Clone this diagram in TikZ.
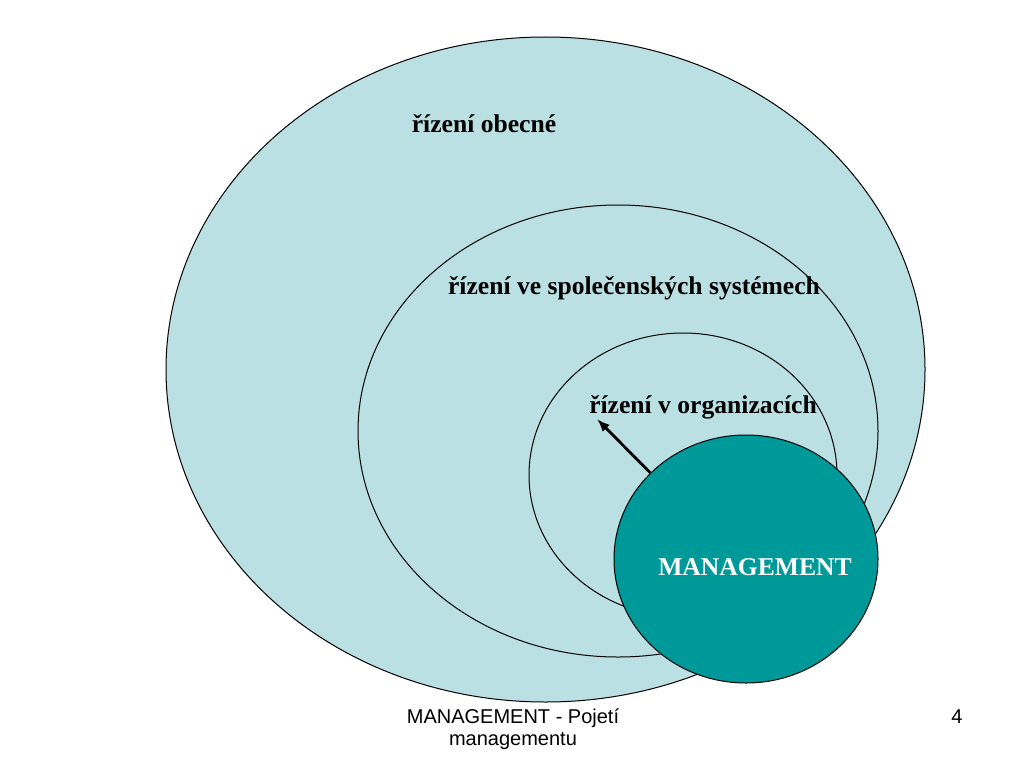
\documentclass[tikz,border=0pt]{standalone}
\usepackage{fontspec}
\setmainfont{Liberation Serif}
\newfontfamily\footfont{Liberation Sans}
\usetikzlibrary{shapes.geometric, arrows.meta}
\definecolor{paleblue}{RGB}{187,224,227}
\definecolor{tealmgmt}{RGB}{0,153,153}

\begin{document}
\begin{tikzpicture}[x=1pt, y=-1pt, >=latex,
	zone/.style={draw, fill=paleblue, line width=1pt},
	lbl/.style={anchor=base, inner sep=0pt, font=\fontsize{25.6}{30}\selectfont\bfseries},
	foot/.style={anchor=base, inner sep=0pt, font=\footfont\fontsize{20}{23}\selectfont}]
		%\draw [thin, help lines] (0,0) grid[step=100] (1024,768);
		\useasboundingbox (0,0) rectangle (1024,768);
		\draw[zone] (545.5,369.5) ellipse (379.5 and 332.5);
		\draw[zone] (618,431) ellipse (260 and 226);
		\draw[zone] (683,475) ellipse (154 and 142);
		\node[ellipse, draw, line width=1pt, fill=tealmgmt, minimum width=264, minimum height=248, inner sep=0pt] (mgmt) at (746,559) {};
		\node[lbl] (general) at (484,132) {řízení obecné};
		\node[lbl] (social) at (634,294) {řízení ve společenských systémech};
		\node[lbl] (org) at (703,413) {řízení v organizacích};
		\node[lbl, text=white] (mgmtlbl) at (755,575) {MANAGEMENT};
		\coordinate (orgtip) at (597,419);
		\draw[-{Latex[length=13pt, width=10pt]}, line width=2.8pt] (mgmt.138) -- (orgtip);
		\node[foot] (title) at (513,723) {MANAGEMENT - Pojetí};
		\node[foot] (subtitle) at (513,745) {managementu};
		\node[foot] (page) at (957,723) {4};
	\end{tikzpicture}
\end{document}
